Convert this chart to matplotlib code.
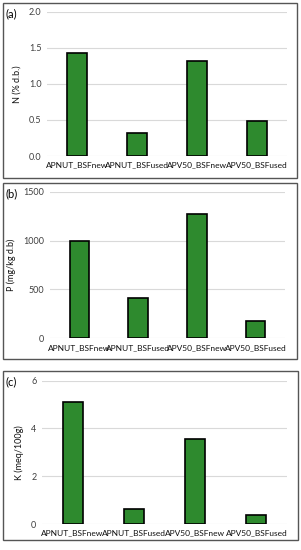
import matplotlib
matplotlib.use("Agg")
import matplotlib.pyplot as plt
from matplotlib.patches import Rectangle

plt.rcParams['font.family'] = ['Lato', 'DejaVu Sans']

categories = ["APNUT_BSFnew", "APNUT_BSFused", "APV50_BSFnew", "APV50_BSFused"]
n_values = [1.43, 0.32, 1.31, 0.48]
p_values = [1000, 416, 1272, 177]
k_values = [5.09, 0.61, 3.54, 0.36]

W, H = 301, 550
fig = plt.figure(figsize=(W / 100, H / 100), dpi=100)
fig.patch.set_facecolor("white")

panels = [
    dict(vals=n_values, label="(a)", ylabel="N (% d.b.)", ylim=(0, 2.0), ticks=[0, 0.5, 1.0, 1.5, 2.0],
         fmt="{:.1f}", ax_px=(47, 11.7, 287, 156), frame=(3, 3, 297, 178)),
    dict(vals=p_values, label="(b)", ylabel="P (mg/kg d.b)", ylim=(0, 1500), ticks=[0, 500, 1000, 1500],
         fmt="{:.0f}", ax_px=(50, 191.7, 285, 338.3), frame=(3, 183, 297, 359)),
    dict(vals=k_values, label="(c)", ylabel="K (meq/100g)", ylim=(0, 6), ticks=[0, 2, 4, 6],
         fmt="{:.0f}", ax_px=(42, 380.7, 287, 524), frame=(3, 371, 298, 540)),
]

tick_color = "#404040"
for p in panels:
    x0, y0, x1, y1 = p["ax_px"]
    ax = fig.add_axes([x0 / W, 1 - y1 / H, (x1 - x0) / W, (y1 - y0) / H])
    xs = list(range(len(categories)))
    ax.bar(xs, p["vals"], width=0.33, color="#2E8A2E", edgecolor="black", linewidth=1.2, zorder=3)
    ax.set_xlim(-0.5, 3.5)
    ax.set_ylim(*p["ylim"])
    ax.set_yticks(p["ticks"])
    ax.set_yticklabels([p["fmt"].format(t) for t in p["ticks"]], fontsize=6.5, color=tick_color)
    ax.set_xticks(xs)
    ax.set_xticklabels(categories, fontsize=6.0, color="#111111")
    ax.tick_params(axis="both", length=0, pad=4)
    ax.grid(axis="y", color="#d9d9d9", linewidth=0.8, zorder=0)
    for s in ax.spines.values():
        s.set_visible(False)
    ax.set_ylabel(p["ylabel"], fontsize=6.5, color="#111111", labelpad=5)
    fx0, fy0, fx1, fy1 = p["frame"]
    fig.patches.append(Rectangle((fx0 / W, 1 - fy1 / H), (fx1 - fx0) / W, (fy1 - fy0) / H,
                                 transform=fig.transFigure, fill=False, edgecolor="#555555",
                                 linewidth=1.0, zorder=10))
    fig.text((fx0 + 2) / W, 1 - (fy0 + 11) / H, p["label"], fontsize=8, va="center", ha="left")

fig.savefig("out.png", dpi=100, facecolor="white")
